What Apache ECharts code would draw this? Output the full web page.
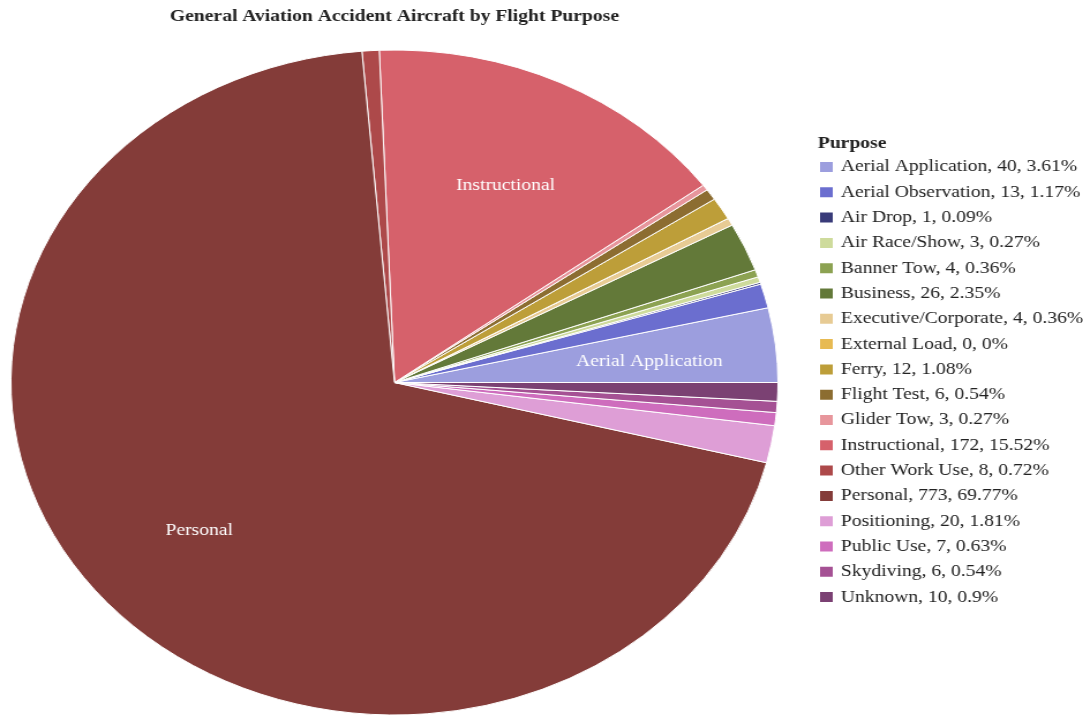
<!DOCTYPE html>
<html>
<head>
<meta charset="utf-8">
<title>General Aviation Accident Aircraft by Flight Purpose</title>
<script src="https://cdn.jsdelivr.net/npm/echarts@6/dist/echarts.min.js"></script>
<style>
  html, body { margin: 0; padding: 0; background: #fff; overflow: hidden; }
  #wrap { width: 1083px; height: 717px; overflow: hidden; }
  /* the chart is laid out in a narrower box and widened to the full page */
  #chart { width: 939px; height: 717px; transform: scaleX(1.1534); transform-origin: 0 0; }
</style>
</head>
<body>
<div id="wrap"><div id="chart"></div></div>
<script>
const purposes = [
  'Aerial Application', 'Aerial Observation', 'Air Drop', 'Air Race/Show',
  'Banner Tow', 'Business', 'Executive/Corporate', 'External Load', 'Ferry',
  'Flight Test', 'Glider Tow', 'Instructional', 'Other Work Use', 'Personal',
  'Positioning', 'Public Use', 'Skydiving', 'Unknown'
];
const counts = [40, 13, 1, 3, 4, 26, 4, 0, 12, 6, 3, 172, 8, 773, 20, 7, 6, 10];
const colors = [
  '#9c9ede', '#6b6ecf', '#393b79', '#cedb9c', '#8ca252', '#637939', '#e7cb94',
  '#e7ba52', '#bd9e39', '#8c6d31', '#e7969c', '#d6616b', '#ad494a', '#843c39',
  '#de9ed6', '#ce6dbd', '#a55194', '#7b4173'
];
const labelled = ['Aerial Application', 'Instructional', 'Personal'];

const total = counts.reduce((a, b) => a + b, 0);
const pct = v => Math.round(v / total * 10000) / 100;
const lookup = {};
purposes.forEach((p, i) => { lookup[p] = counts[i]; });

const serif = '"Liberation Serif", "Times New Roman", serif';
const cx = 342, cy = 382.5, R = 332.5;

const sliceData = purposes.map((p, i) => ({
  name: p, value: counts[i], itemStyle: { color: colors[i] }
}));
const labelData = purposes.map((p, i) => ({
  name: p, value: counts[i],
  label: { show: labelled.indexOf(p) >= 0 }
}));

const chart = echarts.init(document.getElementById('chart'), null, { renderer: 'canvas' });
chart.setOption({
  animation: false,
  title: [{
    text: 'General Aviation Accident Aircraft by Flight Purpose',
    left: cx, top: 8, textAlign: 'center', padding: 0,
    textStyle: { fontFamily: serif, fontWeight: 'bold', fontSize: 17, color: '#222' }
  }, {
    text: 'Purpose',
    left: 709, top: 135, padding: 0,
    textStyle: { fontFamily: serif, fontWeight: 'bold', fontSize: 17, color: '#222' }
  }],
  legend: {
    orient: 'vertical',
    left: 709, top: 158, padding: 0,
    itemWidth: 13, itemHeight: 12, itemGap: 7.3,
    icon: 'rect',
    selectedMode: false,
    data: purposes,
    formatter: name => name + ', ' + lookup[name] + ', ' + pct(lookup[name]) + '%',
    textStyle: { fontFamily: serif, fontSize: 17, color: '#222', lineHeight: 18, padding: [0, 0, 0, 1] }
  },
  series: [{
    type: 'pie',
    center: [cx, cy],
    radius: [0, R],
    startAngle: 0,
    clockwise: false,
    minAngle: 0,
    silent: true,
    label: { show: false },
    labelLine: { show: false },
    itemStyle: { borderColor: '#fff', borderWidth: 1 },
    emphasis: { disabled: true },
    data: sliceData
  }, {
    // transparent ring used only to place slice names about two thirds out
    type: 'pie',
    center: [cx, cy],
    radius: [R * 0.32, R],
    startAngle: 0,
    clockwise: false,
    silent: true,
    legendHoverLink: false,
    itemStyle: { color: 'rgba(0,0,0,0)', borderWidth: 0 },
    emphasis: { disabled: true },
    label: {
      position: 'inside',
      formatter: '{b}',
      fontFamily: serif, fontSize: 17, color: '#fff'
    },
    labelLayout: p => ({
      x: p.labelRect.x + p.labelRect.width / 2,
      y: p.labelRect.y + p.labelRect.height / 2 + 4
    }),
    labelLine: { show: false },
    data: labelData
  }]
});
</script>
</body>
</html>
